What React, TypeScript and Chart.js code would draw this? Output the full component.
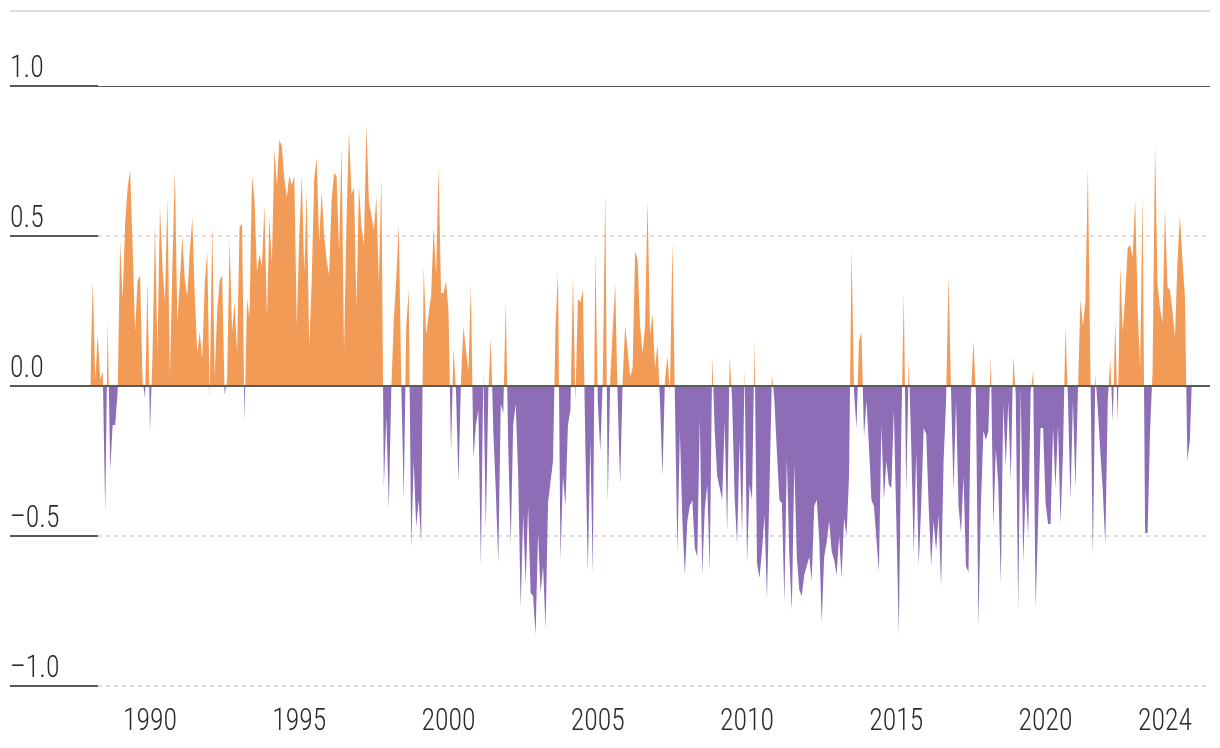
import React, { useEffect, useRef } from 'react';
import { Chart, registerables } from 'chart.js';

Chart.register(...registerables);

// Monthly series, Jan 1988 – Dec 2024 (one row per year)
const START_YEAR = 1988;
const monthlyValues: number[] = [
  /* 1988 */ 0.02, 0.35, 0.02, 0.17, 0.02, 0.05, -0.42, 0.22, -0.28, -0.13, -0.13, -0.02,
  /* 1989 */ 0.48, 0.29, 0.54, 0.66, 0.72, 0.47, 0.18, 0.35, 0.37, 0.02, -0.04, 0.35,
  /* 1990 */ -0.15, 0.10, 0.54, 0.11, 0.60, 0.40, 0.28, 0.63, 0.03, 0.40, 0.72, 0.21,
  /* 1991 */ 0.35, 0.50, 0.35, 0.30, 0.45, 0.56, 0.30, 0.11, 0.18, 0.09, 0.34, 0.45,
  /* 1992 */ -0.04, 0.54, 0.03, 0.25, 0.35, 0.37, -0.03, 0.02, 0.49, 0.18, 0.28, 0.11,
  /* 1993 */ 0.53, 0.54, -0.12, 0.29, 0.23, 0.70, 0.62, 0.38, 0.44, 0.40, 0.60, 0.23,
  /* 1994 */ 0.56, 0.41, 0.79, 0.67, 0.82, 0.80, 0.69, 0.63, 0.70, 0.67, 0.70, 0.20,
  /* 1995 */ 0.50, 0.70, 0.38, 0.65, 0.13, 0.35, 0.69, 0.76, 0.48, 0.65, 0.50, 0.42,
  /* 1996 */ 0.37, 0.62, 0.71, 0.70, 0.45, 0.80, 0.11, 0.55, 0.85, 0.64, 0.66, 0.26,
  /* 1997 */ 0.67, 0.53, 0.47, 0.87, 0.61, 0.57, 0.52, 0.63, 0.34, 0.70, -0.34, -0.10,
  /* 1998 */ -0.41, -0.01, 0.22, 0.36, 0.54, 0.01, -0.38, 0.20, 0.32, -0.54, -0.25, -0.47,
  /* 1999 */ -0.38, -0.52, 0.40, 0.17, 0.24, 0.30, 0.53, 0.37, 0.73, 0.31, 0.31, 0.35,
  /* 2000 */ 0.25, -0.22, 0.13, -0.02, -0.32, 0.02, 0.20, 0.12, 0.05, 0.34, -0.24, -0.13,
  /* 2001 */ -0.08, -0.60, 0.05, -0.48, -0.02, 0.16, -0.15, -0.35, -0.59, -0.06, -0.09, 0.28,
  /* 2002 */ -0.20, -0.53, -0.13, -0.06, -0.30, -0.74, -0.43, -0.66, -0.40, -0.69, -0.70, -0.83,
  /* 2003 */ -0.49, -0.69, -0.60, -0.81, -0.39, -0.32, -0.25, 0.20, 0.38, -0.58, -0.30, -0.40,
  /* 2004 */ -0.13, -0.08, 0.37, -0.05, 0.29, 0.28, 0.32, -0.20, -0.62, -0.18, -0.63, 0.45,
  /* 2005 */ -0.05, -0.22, 0.02, 0.65, -0.39, 0.02, 0.19, 0.34, -0.05, -0.33, 0.02, 0.20,
  /* 2006 */ 0.12, 0.03, 0.06, 0.45, 0.42, 0.20, 0.11, 0.20, 0.62, 0.17, 0.24, 0.06,
  /* 2007 */ 0.14, -0.05, -0.30, 0.02, 0.10, -0.02, 0.48, -0.05, -0.56, -0.15, -0.45, -0.63,
  /* 2008 */ -0.45, -0.40, -0.38, -0.54, -0.57, -0.11, -0.63, -0.41, -0.33, -0.62, 0.10, -0.15,
  /* 2009 */ -0.30, -0.34, -0.38, -0.12, -0.49, 0.10, -0.05, -0.37, -0.53, -0.18, -0.50, 0.06,
  /* 2010 */ -0.59, -0.33, -0.38, 0.15, -0.59, -0.64, -0.55, -0.43, -0.71, -0.35, 0.04, -0.05,
  /* 2011 */ -0.22, -0.38, -0.39, -0.72, -0.24, -0.57, -0.75, -0.26, -0.57, -0.68, -0.70, -0.63,
  /* 2012 */ -0.60, -0.57, -0.65, -0.40, -0.38, -0.51, -0.79, -0.57, -0.52, -0.45, -0.55, -0.58,
  /* 2013 */ -0.63, -0.50, -0.64, -0.44, -0.50, -0.30, 0.46, -0.02, -0.14, 0.15, 0.18, -0.17,
  /* 2014 */ -0.05, -0.20, -0.38, -0.40, -0.51, -0.62, -0.13, -0.38, -0.25, -0.33, -0.34, -0.08,
  /* 2015 */ -0.45, -0.83, -0.15, 0.31, -0.36, 0.09, -0.20, -0.56, -0.22, -0.60, -0.40, -0.14,
  /* 2016 */ -0.16, -0.40, -0.60, -0.45, -0.55, -0.43, -0.67, -0.25, -0.05, 0.37, -0.02, -0.35,
  /* 2017 */ -0.05, -0.40, -0.49, -0.30, -0.60, -0.62, -0.03, 0.15, -0.03, -0.80, -0.40, -0.15,
  /* 2018 */ -0.18, -0.15, 0.10, -0.47, -0.21, -0.33, -0.66, -0.06, -0.27, -0.05, -0.32, 0.10,
  /* 2019 */ -0.03, -0.75, -0.01, -0.59, -0.34, -0.50, -0.02, 0.05, -0.74, -0.45, -0.14, -0.14,
  /* 2020 */ -0.39, -0.46, -0.46, -0.14, -0.34, -0.13, -0.46, -0.22, 0.20, -0.05, -0.38, -0.05,
  /* 2021 */ -0.34, -0.02, 0.29, 0.20, 0.28, 0.73, 0.05, -0.57, 0.04, -0.08, -0.22, -0.35,
  /* 2022 */ -0.53, -0.05, 0.09, -0.12, 0.22, -0.12, 0.40, 0.18, 0.30, 0.46, 0.47, 0.43,
  /* 2023 */ 0.62, 0.26, 0.06, 0.64, -0.49, -0.49, -0.15, 0.05, 0.81, 0.34, 0.26, 0.21,
  /* 2024 */ 0.59, 0.33, 0.32, 0.25, 0.16, 0.41, 0.57, 0.42, 0.30, -0.25, -0.18, 0.07,
];

const yTickValues = [1.0, 0.5, 0.0, -0.5, -1.0];
const yTickLabels = ['1.0', '0.5', '0.0', '\u20130.5', '\u20131.0'];
const xTickYears = [1990, 1995, 2000, 2005, 2010, 2015, 2020, 2024];

const ORANGE = '#F29B56';
const PURPLE = '#8D6EB6';
const TEXT = '#2b2b2b';
const AXIS_DARK = '#5a5a5a';
const GRID_LIGHT = '#dedede';

const W = 1220;
const H = 748;

function pickFont(ctx: CanvasRenderingContext2D): string {
  const candidates = ['Roboto Condensed', 'Liberation Sans Narrow', 'DejaVu Sans Condensed', 'Roboto'];
  const probe = 'mmmwwwiii1990';
  for (const c of candidates) {
    let differs = false;
    for (const base of ['monospace', 'serif']) {
      ctx.font = `40px ${base}`;
      const a = ctx.measureText(probe).width;
      ctx.font = `40px "${c}", ${base}`;
      const b = ctx.measureText(probe).width;
      if (Math.abs(a - b) > 0.5) differs = true;
    }
    if (differs) return c;
  }
  return 'sans-serif';
}

export default function App() {
  const canvasRef = useRef<HTMLCanvasElement | null>(null);

  useEffect(() => {
    document.body.style.margin = '0';
    const canvas = canvasRef.current;
    if (!canvas) return;
    const ctx0 = canvas.getContext('2d')!;
    const family = pickFont(ctx0);
    const FONT = `300 32px "${family}", sans-serif`;
    ctx0.font = FONT;
    const m = ctx0.measureText('1990');
    const ink = (m.actualBoundingBoxRight || m.width) + (m.actualBoundingBoxLeft || 0);
    const sx = Math.min(1, 51 / ink);

    const points = monthlyValues.map((v, i) => ({ x: START_YEAR + i / 12, y: v }));

    const drawText = (ctx: CanvasRenderingContext2D, text: string, x: number, y: number, align: 'left' | 'center') => {
      ctx.save();
      ctx.font = FONT;
      ctx.fillStyle = TEXT;
      ctx.textBaseline = 'alphabetic';
      ctx.textAlign = align;
      ctx.translate(x, y);
      ctx.scale(sx, 1);
      ctx.fillText(text, 0, 0);
      ctx.restore();
    };

    const hline = (ctx: CanvasRenderingContext2D, x1: number, x2: number, y: number, color: string, width: number, dash: number[] = []) => {
      ctx.save();
      ctx.beginPath();
      ctx.setLineDash(dash);
      ctx.strokeStyle = color;
      ctx.lineWidth = width;
      ctx.moveTo(x1, y);
      ctx.lineTo(x2, y);
      ctx.stroke();
      ctx.restore();
    };

    const rulesPlugin = {
      id: 'rules',
      beforeDatasetsDraw(chart: any) {
        const { ctx, chartArea: ca, scales } = chart;
        const y = scales.y;
        const stub = ca.left + 88;
        hline(ctx, ca.left, ca.right, ca.top + 1, GRID_LIGHT, 2);
        yTickValues.forEach((v) => {
          const py = Math.round(y.getPixelForValue(v));
          if (v === 0) return;
          if (v === 1) {
            hline(ctx, stub, ca.right, py + 0.5, AXIS_DARK, 1);
            hline(ctx, ca.left, stub, py, AXIS_DARK, 2);
          } else {
            hline(ctx, stub, ca.right, py, GRID_LIGHT, 2, [4, 4]);
            hline(ctx, ca.left, stub, py, AXIS_DARK, 2);
          }
        });
      },
      afterDatasetsDraw(chart: any) {
        const { ctx, chartArea: ca, scales } = chart;
        const y = scales.y;
        const x = scales.x;
        const py0 = Math.round(y.getPixelForValue(0));
        hline(ctx, ca.left, ca.right, py0, AXIS_DARK, 2);
        yTickValues.forEach((v, i) => {
          const py = Math.round(y.getPixelForValue(v));
          drawText(ctx, yTickLabels[i], ca.left, py - 9, 'left');
        });
        xTickYears.forEach((yr) => {
          const px = x.getPixelForValue(yr);
          drawText(ctx, String(yr), px, 730, 'center');
        });
      },
    };

    const chart = new Chart(canvas, {
      type: 'line',
      data: {
        datasets: [
          {
            data: points,
            borderWidth: 0,
            borderColor: 'rgba(0,0,0,0)',
            pointRadius: 0,
            tension: 0,
            fill: { target: 'origin', above: ORANGE, below: PURPLE },
          } as any,
        ],
      },
      options: {
        animation: false,
        responsive: false,
        maintainAspectRatio: false,
        devicePixelRatio: 1,
        events: [],
        layout: { padding: { left: 10, right: 10, top: 10, bottom: 62 } },
        scales: {
          x: { type: 'linear', min: 1985.3104, max: 2025.5074, display: false },
          y: { type: 'linear', min: -1.0, max: 1.2533, display: false },
        },
        plugins: {
          legend: { display: false },
          tooltip: { enabled: false },
        },
      },
      plugins: [rulesPlugin],
    });

    return () => chart.destroy();
  }, []);

  return (
    <div style={{ width: W, height: H, background: '#fff' }}>
      <canvas ref={canvasRef} width={W} height={H} style={{ display: 'block', width: W, height: H }} />
    </div>
  );
}
